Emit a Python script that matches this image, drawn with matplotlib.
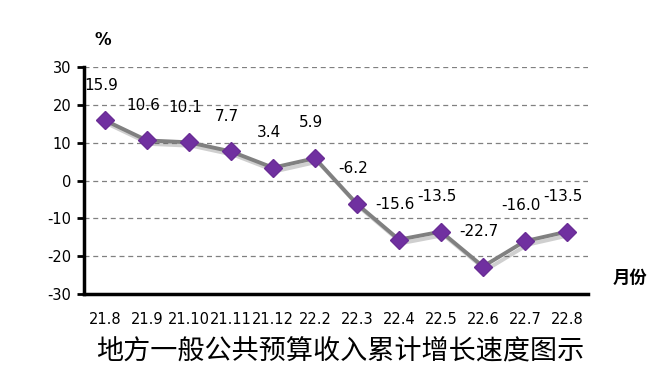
import matplotlib.pyplot as plt
import matplotlib.patheffects as pe

plt.rcParams['font.family'] = ['Noto Sans CJK SC', 'DejaVu Sans']

# data --------------------------------------------------------------
months = ['21.8', '21.9', '21.10', '21.11', '21.12', '22.2',
          '22.3', '22.4', '22.5', '22.6', '22.7', '22.8']
growth = [15.9, 10.6, 10.1, 7.7, 3.4, 5.9,
          -6.2, -15.6, -13.5, -22.7, -16.0, -13.5]
yticks = [30, 20, 10, 0, -10, -20, -30]

# figure ------------------------------------------------------------
fig = plt.figure(figsize=(6.61, 3.85), dpi=100)
ax = fig.add_axes([0.127, 0.236, 0.7626, 0.59])

x = list(range(len(months)))
ax.plot(x, growth, color='#808080', lw=2.8, zorder=3,
        path_effects=[pe.SimpleLineShadow(offset=(2, -2.5), shadow_color='#404040', alpha=0.25),
                      pe.Normal()])
ax.plot(x, growth, ls='none', marker='D', ms=9, mfc='#7030A0', mec='#6a2d96', zorder=4)

for xi, v in zip(x, growth):
    ax.annotate(f'{v:.1f}', (xi, v), xytext=(-3, 20), textcoords='offset points',
                ha='center', va='bottom', fontsize=11, family='DejaVu Sans')

ax.set_xlim(-0.5, len(months) - 0.5)
ax.set_ylim(-30, 30)
ax.set_yticks(yticks)
ax.set_yticklabels([str(t) for t in yticks], fontsize=10.5, family='DejaVu Sans')
ax.set_xticks(x)
ax.set_xticklabels(months, fontsize=10.5, family='DejaVu Sans')
ax.tick_params(axis='x', length=0, pad=13)
ax.tick_params(axis='y', length=5, width=2, direction='out', pad=4)

for t in yticks[:-1]:
    ax.axhline(t, color='#808080', lw=0.9, ls=(0, (4, 3)), zorder=1)

for s in ['top', 'right']:
    ax.spines[s].set_visible(False)
ax.spines['left'].set_linewidth(2.5)
ax.spines['bottom'].set_linewidth(2.5)

fig.text(0.156, 0.895, '%', fontsize=12, fontweight='bold', ha='center', va='center',
         family='DejaVu Sans')
fig.text(0.953, 0.278, '月份', fontsize=12.5, fontweight='bold', ha='center', va='center')
fig.text(0.514, 0.085, '地方一般公共预算收入累计增长速度图示', fontsize=19.5,
         ha='center', va='center')

fig.savefig('out.png', dpi=100)
